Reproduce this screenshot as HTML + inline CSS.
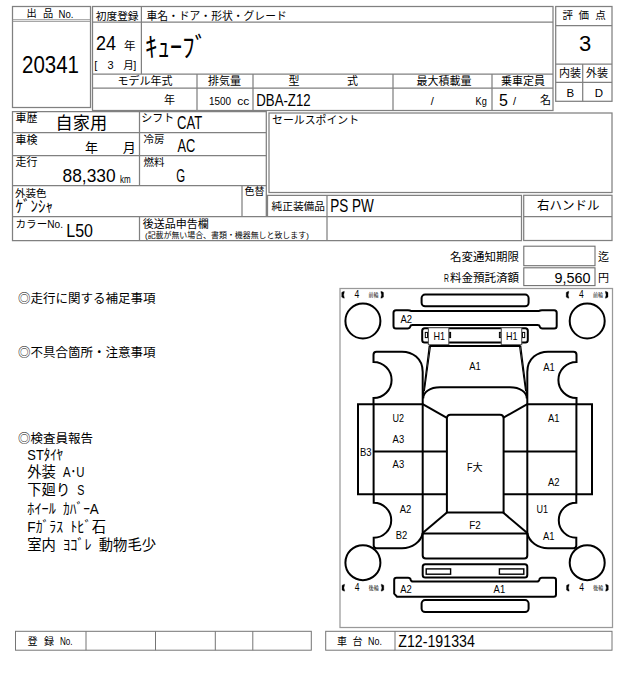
<!DOCTYPE html>
<html><head><meta charset="utf-8"><title>sheet</title>
<style>html,body{margin:0;padding:0;background:#fff;font-family:"Liberation Sans",sans-serif}svg{display:block}svg text{font-family:"Liberation Sans","Noto Sans CJK JP",sans-serif;fill:#000}</style>
</head><body>
<svg width="640" height="680" viewBox="0 0 640 680">
<rect width="640" height="680" fill="#fff"/>
<rect x="12.5" y="6.5" width="78" height="101" fill="none" stroke="#808080" stroke-width="1.25"/>
<line x1="12.5" y1="19.7" x2="90.5" y2="19.7" stroke="#909090" stroke-width="0.9"/>
<line x1="12.5" y1="21.4" x2="90.5" y2="21.4" stroke="#909090" stroke-width="0.9"/>
<text x="26.4" y="17.23" font-size="10.2">出</text>
<text x="43" y="17.23" font-size="10.2">品</text>
<text x="58.5" y="17.83" font-size="10.8" textLength="14.9" lengthAdjust="spacingAndGlyphs">No.</text>
<text x="22" y="72.55" font-size="24.5" textLength="56.95" lengthAdjust="spacingAndGlyphs">20341</text>
<rect x="92.5" y="6.5" width="460.5" height="104" fill="none" stroke="#808080" stroke-width="1.25"/>
<line x1="92.5" y1="22.2" x2="553" y2="22.2" stroke="#808080" stroke-width="1.25"/>
<line x1="141.4" y1="6.5" x2="141.4" y2="74" stroke="#808080" stroke-width="1.25"/>
<line x1="92.5" y1="74" x2="553" y2="74" stroke="#808080" stroke-width="1.25"/>
<line x1="92.5" y1="88" x2="553" y2="88" stroke="#808080" stroke-width="1.25"/>
<line x1="197" y1="74" x2="197" y2="110.5" stroke="#808080" stroke-width="1.25"/>
<line x1="253" y1="74" x2="253" y2="110.5" stroke="#808080" stroke-width="1.25"/>
<line x1="393" y1="74" x2="393" y2="110.5" stroke="#808080" stroke-width="1.25"/>
<line x1="492" y1="74" x2="492" y2="110.5" stroke="#808080" stroke-width="1.25"/>
<text x="95.8" y="19.51" font-size="10.7">初度登録</text>
<text x="146.4" y="19.55" font-size="10.8">車名・ドア・形状・グレード</text>
<text x="96" y="49.7" font-size="20" textLength="20" lengthAdjust="spacingAndGlyphs">24</text>
<text x="124" y="49.81" font-size="11.5">年</text>
<text x="94.2" y="69.31" font-size="11">[</text>
<text x="107.6" y="69.31" font-size="11">3</text>
<text x="123.2" y="68.94" font-size="10.5">月</text>
<text x="133.2" y="69.31" font-size="11">]</text>
<text x="145" y="57.15" font-size="27.6" textLength="62.1" lengthAdjust="spacingAndGlyphs">ｷｭｰﾌﾞ</text>
<text x="117.4" y="85.12" font-size="11">モデル年式</text>
<text x="208" y="85.12" font-size="11">排気量</text>
<text x="288.4" y="85.12" font-size="11">型</text>
<text x="347" y="85.12" font-size="11">式</text>
<text x="416.5" y="85.12" font-size="11">最大積載量</text>
<text x="501" y="85.12" font-size="11">乗車定員</text>
<text x="164" y="104.12" font-size="11">年</text>
<text x="209" y="104.72" font-size="11.5" textLength="22.08" lengthAdjust="spacingAndGlyphs">1500</text>
<text x="237.3" y="104.72" font-size="11.5" textLength="12.08" lengthAdjust="spacingAndGlyphs">cc</text>
<text x="256.3" y="106.27" font-size="16.5" textLength="54.28" lengthAdjust="spacingAndGlyphs">DBA-Z12</text>
<text x="430.7" y="104.51" font-size="11">/</text>
<text x="475.5" y="104.72" font-size="11.5" textLength="11.26" lengthAdjust="spacingAndGlyphs">Kg</text>
<text x="499" y="106.06" font-size="16">5</text>
<text x="513" y="104.51" font-size="11">/</text>
<text x="540" y="104.12" font-size="11">名</text>
<rect x="555.7" y="6.5" width="56.3" height="94.8" fill="none" stroke="#808080" stroke-width="1.25"/>
<line x1="555.7" y1="25.5" x2="612" y2="25.5" stroke="#808080" stroke-width="1.25"/>
<line x1="555.7" y1="64" x2="612" y2="64" stroke="#808080" stroke-width="1.25"/>
<line x1="555.7" y1="82.3" x2="612" y2="82.3" stroke="#808080" stroke-width="1.25"/>
<line x1="582.7" y1="64" x2="582.7" y2="101.3" stroke="#808080" stroke-width="1.25"/>
<text x="562.5" y="19.44" font-size="10.5">評</text>
<text x="578.6" y="19.44" font-size="10.5">価</text>
<text x="595.3" y="19.44" font-size="10.5">点</text>
<text x="579" y="51.02" font-size="22">3</text>
<text x="559" y="77.12" font-size="11">内装</text>
<text x="586" y="77.12" font-size="11">外装</text>
<text x="566.6" y="96.72" font-size="11.5">B</text>
<text x="594.7" y="96.72" font-size="11.5">D</text>
<path d="M266.3 216.5V111.5H12.5V240.5H521.5V195.3H267.5V216.5" fill="none" stroke="#808080" stroke-width="1.25" />
<line x1="12.5" y1="132.6" x2="266.3" y2="132.6" stroke="#808080" stroke-width="1.25"/>
<line x1="12.5" y1="155.5" x2="266.3" y2="155.5" stroke="#808080" stroke-width="1.25"/>
<line x1="12.5" y1="185.6" x2="266.3" y2="185.6" stroke="#808080" stroke-width="1.25"/>
<line x1="12.5" y1="216.5" x2="521.5" y2="216.5" stroke="#808080" stroke-width="1.25"/>
<line x1="139.5" y1="111.5" x2="139.5" y2="185.6" stroke="#808080" stroke-width="1.25"/>
<line x1="139.5" y1="216.5" x2="139.5" y2="240.5" stroke="#808080" stroke-width="1.25"/>
<line x1="242" y1="185.6" x2="242" y2="216.5" stroke="#808080" stroke-width="1.25"/>
<text x="15.5" y="121.53" font-size="11">車歴</text>
<text x="55.5" y="128.65" font-size="17.2">自家用</text>
<text x="15.5" y="143.62" font-size="11">車検</text>
<text x="85" y="151.57" font-size="13">年</text>
<text x="122.7" y="151.57" font-size="13">月</text>
<text x="15.5" y="165.82" font-size="11">走行</text>
<text x="62.5" y="182.06" font-size="17.7" textLength="53.1" lengthAdjust="spacingAndGlyphs">88,330</text>
<text x="120" y="183.11" font-size="11" textLength="10.66" lengthAdjust="spacingAndGlyphs">km</text>
<text x="15" y="196.94" font-size="10.5">外装色</text>
<text x="15.5" y="212.42" font-size="16" textLength="37.5" lengthAdjust="spacingAndGlyphs">ｹﾞﾝｼｬ</text>
<text x="15.5" y="227.67" font-size="10.6">カラー</text>
<text x="47.3" y="228.21" font-size="11" textLength="15.7" lengthAdjust="spacingAndGlyphs">No.</text>
<text x="66.3" y="236.9" font-size="17.8" textLength="26.7" lengthAdjust="spacingAndGlyphs">L50</text>
<text x="141.2" y="121.62" font-size="11">シフト</text>
<text x="177" y="128.6" font-size="17.8" textLength="25.1" lengthAdjust="spacingAndGlyphs">CAT</text>
<text x="143.5" y="143.24" font-size="10.5">冷房</text>
<text x="177.4" y="151.6" font-size="17.8" textLength="17.8" lengthAdjust="spacingAndGlyphs">AC</text>
<text x="143.5" y="165.84" font-size="10.5">燃料</text>
<text x="176.3" y="181.7" font-size="17.8" textLength="8.9" lengthAdjust="spacingAndGlyphs">G</text>
<text x="244.5" y="195.25" font-size="10">色替</text>
<text x="142.8" y="228.12" font-size="11">後送品申告欄</text>
<text x="145" y="238.12" font-size="7.8" textLength="163.8" lengthAdjust="spacingAndGlyphs">(記載が無い場合、書類・機器無しと致します)</text>
<rect x="269" y="113" width="343" height="79.5" fill="none" stroke="#808080" stroke-width="1.25"/>
<text x="272" y="124.09" font-size="10.9">セールスポイント</text>
<line x1="327" y1="195.3" x2="327" y2="240.5" stroke="#808080" stroke-width="1.25"/>
<text x="271.5" y="210.21" font-size="10.7">純正装備品</text>
<text x="330.2" y="212.4" font-size="17.8" textLength="43.6" lengthAdjust="spacingAndGlyphs">PS PW</text>
<rect x="523.7" y="195.3" width="88.3" height="45.2" fill="none" stroke="#808080" stroke-width="1.25"/>
<line x1="523.7" y1="216.5" x2="612" y2="216.5" stroke="#808080" stroke-width="1.25"/>
<text x="537" y="210.19" font-size="12.5">右ハンドル</text>
<text x="450" y="260.81" font-size="11.5">名変通知期限</text>
<rect x="523.8" y="246.2" width="71.2" height="19.5" fill="none" stroke="#707070" stroke-width="1.1"/>
<text x="598" y="261.12" font-size="11">迄</text>
<text x="444" y="282.21" font-size="11.5" textLength="4.9" lengthAdjust="spacingAndGlyphs">R</text>
<text x="450" y="281.81" font-size="11.5">料金預託済額</text>
<rect x="523.8" y="267.8" width="71.2" height="17.8" fill="none" stroke="#707070" stroke-width="1.1"/>
<text x="554.5" y="283.15" font-size="15" textLength="36" lengthAdjust="spacingAndGlyphs">9,560</text>
<text x="598" y="282.12" font-size="11">円</text>
<text x="18" y="302.69" font-size="12.5">◎走行に関する補足事項</text>
<text x="18" y="357.19" font-size="12.5">◎不具合箇所・注意事項</text>
<text x="18" y="442.89" font-size="12.5">◎検査員報告</text>
<text x="27.3" y="459.56" font-size="14.3" textLength="35.75" lengthAdjust="spacingAndGlyphs">STﾀｲﾔ</text>
<text x="27.3" y="477.06" font-size="14.3">外装</text>
<text x="63.05" y="477.06" font-size="14.3" textLength="21.45" lengthAdjust="spacingAndGlyphs">A･U</text>
<text x="27.3" y="494.96" font-size="14.3">下廻り</text>
<text x="77.35" y="494.96" font-size="14.3" textLength="7.15" lengthAdjust="spacingAndGlyphs">S</text>
<text x="27.3" y="514.16" font-size="14.3" textLength="28.6" lengthAdjust="spacingAndGlyphs">ﾎｲｰﾙ</text>
<text x="63.05" y="514.16" font-size="14.3" textLength="35.75" lengthAdjust="spacingAndGlyphs">ｶﾊﾞｰA</text>
<text x="27.3" y="531.76" font-size="14.3" textLength="35.75" lengthAdjust="spacingAndGlyphs">Fｶﾞﾗｽ</text>
<text x="70.2" y="531.76" font-size="14.3" textLength="35.75" lengthAdjust="spacingAndGlyphs">ﾄﾋﾞ石</text>
<text x="27.3" y="550.36" font-size="14.3">室内</text>
<text x="63.05" y="550.36" font-size="14.3" textLength="28.6" lengthAdjust="spacingAndGlyphs">ﾖｺﾞﾚ</text>
<text x="98.8" y="550.36" font-size="14.3">動物毛少</text>
<rect x="15.5" y="631.3" width="295.8" height="18.9" fill="none" stroke="#757575" stroke-width="1"/>
<line x1="86" y1="631.3" x2="86" y2="650.2" stroke="#757575" stroke-width="1"/>
<line x1="155.5" y1="631.3" x2="155.5" y2="650.2" stroke="#757575" stroke-width="1"/>
<line x1="215.3" y1="631.3" x2="215.3" y2="650.2" stroke="#757575" stroke-width="1"/>
<line x1="252.8" y1="631.3" x2="252.8" y2="650.2" stroke="#757575" stroke-width="1"/>
<text x="27.5" y="644.75" font-size="10">登</text>
<text x="44" y="644.75" font-size="10">録</text>
<text x="60" y="645.3" font-size="10.5" textLength="12.6" lengthAdjust="spacingAndGlyphs">No.</text>
<rect x="325.7" y="631.3" width="286.3" height="18.9" fill="none" stroke="#757575" stroke-width="1"/>
<line x1="395" y1="631.3" x2="395" y2="650.2" stroke="#757575" stroke-width="1"/>
<text x="337" y="644.75" font-size="10">車</text>
<text x="352.5" y="644.75" font-size="10">台</text>
<text x="368" y="645.3" font-size="10.5" textLength="13.86" lengthAdjust="spacingAndGlyphs">No.</text>
<text x="398.3" y="646.87" font-size="17" textLength="76.5" lengthAdjust="spacingAndGlyphs">Z12-191334</text>
<rect x="340" y="288.5" width="272.5" height="339" fill="none" stroke="#999" stroke-width="1.25"/>
<path d="M422.7 404.2V372C422.7 358 412 351.7 402 351.7H376.5Q373.5 351.7 373.5 354.7V361.9A18.1 18.1 0 0 1 373.5 398.1V404.2" fill="none" stroke="#000" stroke-width="2" />
<path d="M422.7 404.2H358V494.2H446.9" fill="none" stroke="#000" stroke-width="2" />
<path d="M373.6 404.2V494.2" fill="none" stroke="#000" stroke-width="2" />
<path d="M373.6 451.4H446.9" fill="none" stroke="#000" stroke-width="2" />
<path d="M422.7 404.2V534" fill="none" stroke="#000" stroke-width="2" />
<path d="M422.7 404.2L446.9 417.8" fill="none" stroke="#000" stroke-width="2" />
<path d="M429.3 346L423.3 394.5" fill="none" stroke="#000" stroke-width="1.3" />
<path d="M430.5 346L424.4 391" fill="none" stroke="#000" stroke-width="1.1" />
<path d="M446.9 512.6L422.7 533" fill="none" stroke="#000" stroke-width="2" />
<path d="M373.7 494.2V502.7A17.55 17.55 0 0 1 373.7 537.8V545.5Q373.7 548.3 376.5 548.3H402C412 548.3 421 542 422.7 533" fill="none" stroke="#000" stroke-width="2" />
<g transform="translate(950 0) scale(-1 1)">
<path d="M422.7 404.2V372C422.7 358 412 351.7 402 351.7H376.5Q373.5 351.7 373.5 354.7V361.9A18.1 18.1 0 0 1 373.5 398.1V404.2" fill="none" stroke="#000" stroke-width="2" />
<path d="M422.7 404.2H358V494.2H446.9" fill="none" stroke="#000" stroke-width="2" />
<path d="M373.6 404.2V494.2" fill="none" stroke="#000" stroke-width="2" />
<path d="M373.6 451.4H446.9" fill="none" stroke="#000" stroke-width="2" />
<path d="M422.7 404.2V534" fill="none" stroke="#000" stroke-width="2" />
<path d="M422.7 404.2L446.9 417.8" fill="none" stroke="#000" stroke-width="2" />
<path d="M429.3 346L423.3 394.5" fill="none" stroke="#000" stroke-width="1.3" />
<path d="M430.5 346L424.4 391" fill="none" stroke="#000" stroke-width="1.1" />
<path d="M446.9 512.6L422.7 533" fill="none" stroke="#000" stroke-width="2" />
<path d="M373.7 494.2V502.7A17.55 17.55 0 0 1 373.7 537.8V545.5Q373.7 548.3 376.5 548.3H402C412 548.3 421 542 422.7 533" fill="none" stroke="#000" stroke-width="2" />
</g>
<circle cx="362.9" cy="321" r="17.5" fill="none" stroke="#000" stroke-width="2"/>
<circle cx="362.9" cy="562.7" r="17.5" fill="none" stroke="#000" stroke-width="2"/>
<circle cx="587.2" cy="321" r="17.5" fill="none" stroke="#000" stroke-width="2"/>
<circle cx="587.2" cy="562.7" r="17.5" fill="none" stroke="#000" stroke-width="2"/>
<rect x="421.6" y="294.6" width="107" height="11.7" fill="none" stroke="#000" stroke-width="2" rx="3.5"/>
<path d="M396 310.3H408Q410.3 310.3 411 310.9H539Q539.7 310.3 542 310.3H554.2Q556.7 310.3 556.7 312.8V326Q556.7 328.5 554.2 328.5H542.5Q540.3 328.5 539.8 326.5Q539.5 325 537.5 325H412.5Q410.5 325 410.2 326.5Q409.7 328.5 407.5 328.5H396Q393.5 328.5 393.5 326V312.8Q393.5 310.3 396 310.3Z" fill="none" stroke="#000" stroke-width="2" />
<rect x="422.2" y="328.2" width="105.6" height="14.2" fill="none" stroke="#000" stroke-width="2" rx="2.5"/>
<rect x="425.3" y="332.4" width="2.2" height="5.2" fill="none" stroke="#000" stroke-width="1"/>
<rect x="449.2" y="332.4" width="1.4" height="5.2" fill="#000" stroke="#000" stroke-width="1"/>
<rect x="499.4" y="332.4" width="1.4" height="5.2" fill="none" stroke="#000" stroke-width="1"/>
<rect x="522.5" y="332.4" width="2.2" height="5.2" fill="none" stroke="#000" stroke-width="1"/>
<rect x="428.4" y="327.7" width="20.4" height="17" fill="#fff" stroke="#555" stroke-width="1.1"/>
<rect x="501.3" y="327.7" width="20.4" height="17" fill="#fff" stroke="#555" stroke-width="1.1"/>
<path d="M429.3 346H520.7" fill="none" stroke="#000" stroke-width="2" />
<path d="M423.2 398.5C423.2 392 430 387.3 440 387.3H510C520 387.3 526.8 392 526.8 398.5" fill="none" stroke="#000" stroke-width="2" />
<path d="M446.9 512.6V418.5Q446.9 414.8 450.5 414.8H500Q503.6 414.8 503.6 418.5V512.6Z" fill="none" stroke="#000" stroke-width="2" />
<path d="M422.7 533.6H527.3" fill="none" stroke="#000" stroke-width="2" />
<path d="M422.7 533.6V555.5Q422.7 558.5 425.9 558.5H524.3Q527.3 558.5 527.3 555.5V533.6" fill="none" stroke="#000" stroke-width="2" />
<rect x="422.7" y="564.2" width="104.6" height="13.4" fill="none" stroke="#000" stroke-width="2" rx="2.5"/>
<rect x="426.2" y="568.9" width="24.4" height="5.3" fill="none" stroke="#000" stroke-width="1.4"/>
<rect x="499.4" y="568.9" width="24.4" height="5.3" fill="none" stroke="#000" stroke-width="1.4"/>
<path d="M396.5 577.8H408Q410.3 577.8 410.6 579.5Q411 581.5 413 581.5H537Q539 581.5 539.4 579.5Q539.7 577.8 542 577.8H553.7Q556 577.8 556 580V594.5Q556 596.7 553.7 596.7H397L394.2 593.7V580Q394.2 577.8 396.5 577.8Z" fill="none" stroke="#000" stroke-width="2" />
<rect x="421.6" y="600.1" width="107" height="12" fill="none" stroke="#000" stroke-width="2" rx="3.5"/>
<text x="400.5" y="322.84" font-size="11.8" textLength="11.56" lengthAdjust="spacingAndGlyphs">A2</text>
<text x="433.6" y="339.84" font-size="11.8" textLength="11.56" lengthAdjust="spacingAndGlyphs">H1</text>
<text x="506" y="339.84" font-size="11.8" textLength="11.56" lengthAdjust="spacingAndGlyphs">H1</text>
<text x="469.2" y="370.04" font-size="11.8" textLength="11.56" lengthAdjust="spacingAndGlyphs">A1</text>
<text x="543.2" y="370.64" font-size="11.8" textLength="11.56" lengthAdjust="spacingAndGlyphs">A1</text>
<text x="392.6" y="421.84" font-size="11.8" textLength="11.56" lengthAdjust="spacingAndGlyphs">U2</text>
<text x="392.6" y="442.64" font-size="11.8" textLength="11.56" lengthAdjust="spacingAndGlyphs">A3</text>
<text x="392.6" y="467.64" font-size="11.8" textLength="11.56" lengthAdjust="spacingAndGlyphs">A3</text>
<text x="360" y="455.54" font-size="11.8" textLength="11.56" lengthAdjust="spacingAndGlyphs">B3</text>
<text x="548" y="421.84" font-size="11.8" textLength="11.56" lengthAdjust="spacingAndGlyphs">A1</text>
<text x="548" y="486.14" font-size="11.8" textLength="11.56" lengthAdjust="spacingAndGlyphs">A2</text>
<text x="399.7" y="512.84" font-size="11.8" textLength="11.56" lengthAdjust="spacingAndGlyphs">A2</text>
<text x="395.8" y="538.84" font-size="11.8" textLength="11.56" lengthAdjust="spacingAndGlyphs">B2</text>
<text x="536.6" y="512.84" font-size="11.8" textLength="11.56" lengthAdjust="spacingAndGlyphs">U1</text>
<text x="543" y="539.54" font-size="11.8" textLength="11.56" lengthAdjust="spacingAndGlyphs">A1</text>
<text x="469.2" y="529.14" font-size="11.8" textLength="11.56" lengthAdjust="spacingAndGlyphs">F2</text>
<text x="400.2" y="592.84" font-size="11.8" textLength="11.56" lengthAdjust="spacingAndGlyphs">A2</text>
<text x="493.6" y="592.84" font-size="11.8" textLength="11.56" lengthAdjust="spacingAndGlyphs">A1</text>
<text x="467" y="471.44" font-size="11.8" textLength="5.5" lengthAdjust="spacingAndGlyphs">F</text>
<text x="472.5" y="470.82" font-size="10.2">大</text>
<path d="M344.3 291.3q-1.6 0.2 -2.6 1.2v4.6q1 1 2.6 1.2v-0.9q-1.3 -2.6 0 -5.2z" fill="#000" stroke="#000" stroke-width="0.3" />
<text x="354.5" y="298.3" font-size="10" textLength="4.75" lengthAdjust="spacingAndGlyphs">4</text>
<text x="368.5" y="296.95" font-size="5.2" textLength="9.88" lengthAdjust="spacingAndGlyphs">前輪</text>
<path d="M380.9 291.3q1.6 0.2 2.6 1.2v4.6q-1 1 -2.6 1.2v-0.9q1.3 -2.6 0 -5.2z" fill="#000" stroke="#000" stroke-width="0.3" />
<path d="M568.8 291.3q-1.6 0.2 -2.6 1.2v4.6q1 1 2.6 1.2v-0.9q-1.3 -2.6 0 -5.2z" fill="#000" stroke="#000" stroke-width="0.3" />
<text x="579" y="298.3" font-size="10" textLength="4.75" lengthAdjust="spacingAndGlyphs">4</text>
<text x="593" y="296.95" font-size="5.2" textLength="9.88" lengthAdjust="spacingAndGlyphs">前輪</text>
<path d="M605.4 291.3q1.6 0.2 2.6 1.2v4.6q-1 1 -2.6 1.2v-0.9q1.3 -2.6 0 -5.2z" fill="#000" stroke="#000" stroke-width="0.3" />
<path d="M344.6 584.2q-1.6 0.2 -2.6 1.2v4.6q1 1 2.6 1.2v-0.9q-1.3 -2.6 0 -5.2z" fill="#000" stroke="#000" stroke-width="0.3" />
<text x="354.8" y="591.2" font-size="10" textLength="4.75" lengthAdjust="spacingAndGlyphs">4</text>
<text x="368.8" y="589.85" font-size="5.2" textLength="9.88" lengthAdjust="spacingAndGlyphs">後輪</text>
<path d="M381.2 584.2q1.6 0.2 2.6 1.2v4.6q-1 1 -2.6 1.2v-0.9q1.3 -2.6 0 -5.2z" fill="#000" stroke="#000" stroke-width="0.3" />
<path d="M569.1 584.2q-1.6 0.2 -2.6 1.2v4.6q1 1 2.6 1.2v-0.9q-1.3 -2.6 0 -5.2z" fill="#000" stroke="#000" stroke-width="0.3" />
<text x="579.3" y="591.2" font-size="10" textLength="4.75" lengthAdjust="spacingAndGlyphs">4</text>
<text x="593.3" y="589.85" font-size="5.2" textLength="9.88" lengthAdjust="spacingAndGlyphs">後輪</text>
<path d="M605.7 584.2q1.6 0.2 2.6 1.2v4.6q-1 1 -2.6 1.2v-0.9q1.3 -2.6 0 -5.2z" fill="#000" stroke="#000" stroke-width="0.3" />
</svg>
</body></html>
